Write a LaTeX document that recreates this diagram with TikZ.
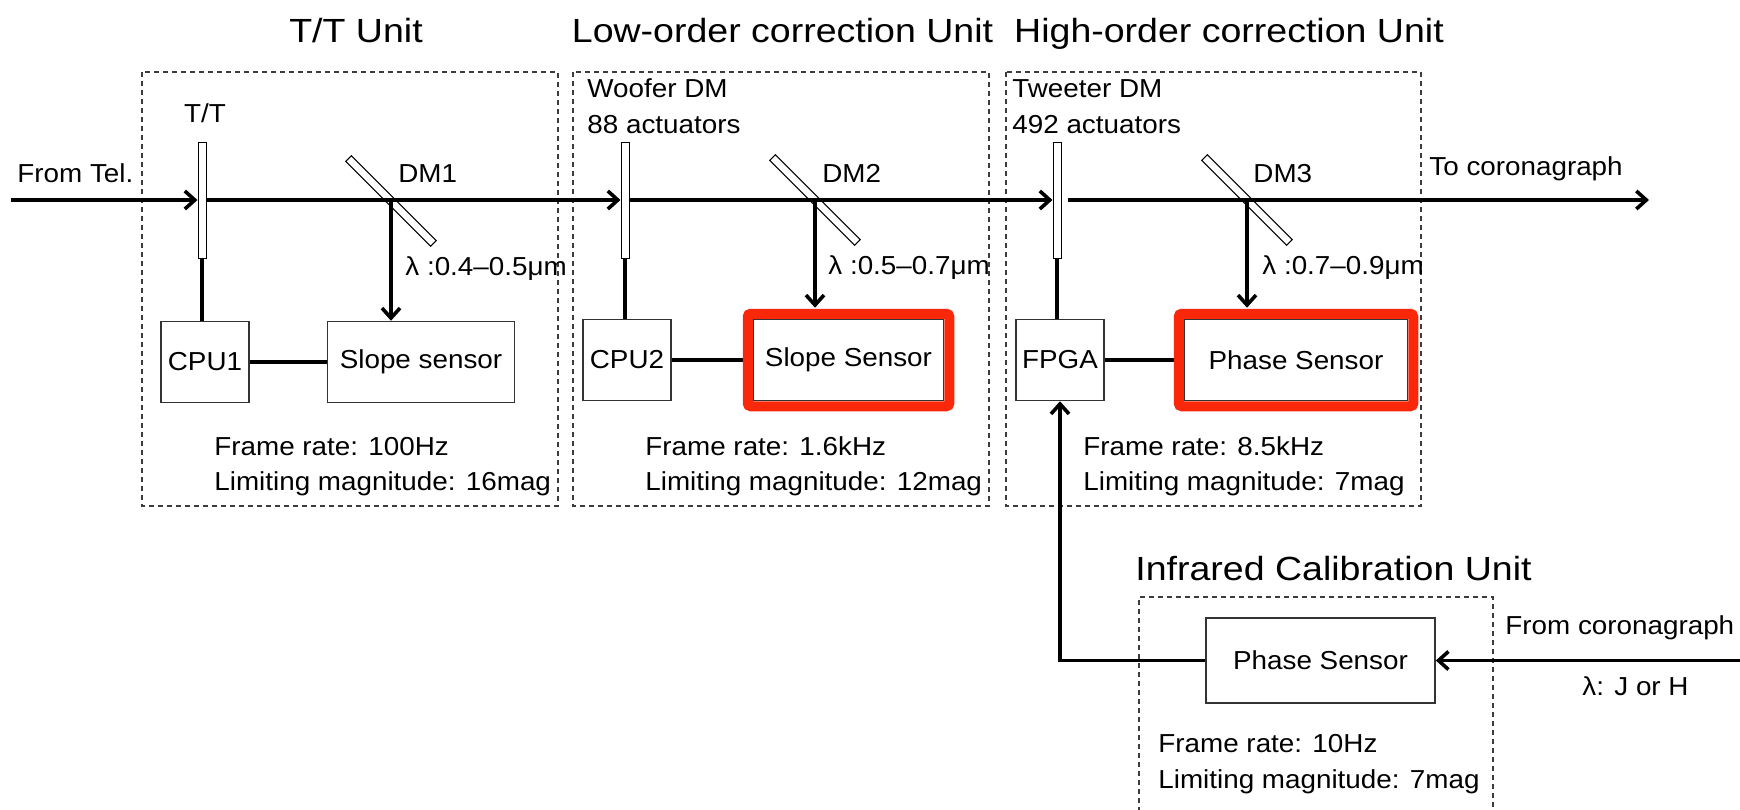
\documentclass[tikz,border=0pt]{standalone}
\usepackage{fontspec}
\setmainfont{Liberation Sans}[FakeStretch=1.07]
\newfontfamily\ttlfont{Liberation Sans}[FakeStretch=1.12]
\usepackage{tikz}
\usetikzlibrary{positioning,arrows.meta}
\definecolor{alert}{RGB}{250,40,10}
\definecolor{frame}{RGB}{60,60,60}

\begin{document}
\begin{tikzpicture}[x=0.5pt,y=-0.5pt,font=\fontsize{13pt}{15pt}\selectfont,
 >={Straight Barb[length=5pt,width=9pt]},
 box/.style={draw=black!80,line width=0.75pt,minimum height=40.5pt,inner sep=0pt},
 mir/.style={draw,line width=0.5pt,fill=white,minimum width=4pt,minimum height=58pt,inner sep=0pt},
 dm/.style={draw,line width=0.5pt,minimum width=60pt,minimum height=4pt,inner sep=0pt,rotate=-45},
 unit/.style={draw=frame,line width=0.6pt,dash pattern=on 2.5pt off 2pt},
 beam/.style={line width=1.8pt},
 hot/.style={draw=alert,line width=5pt,rounded corners=1.5pt},
 ttl/.style={font=\ttlfont\fontsize{16.75pt}{20pt}\selectfont,anchor=base,inner sep=0pt},
 lbl/.style={anchor=base west,inner sep=0pt}]
 \useasboundingbox (0,0) rectangle (1740,809);
 % unit frames
 \draw[unit] (142,72) rectangle (558,506);
 \draw[unit] (573,72) rectangle (989,506);
 \draw[unit] (1006,72) rectangle (1421,506);
 \draw[unit] (1139,812) |- (1493,597) -- (1493,812);
 \node[ttl](tttl) at (356,42.5){T/T Unit};
 \node[ttl](lottl) at (782.5,42.5){Low-order correction Unit};
 \node[ttl](hittl) at (1229,42.5){High-order correction Unit};
 \node[ttl](irttl) at (1333.5,580){Infrared Calibration Unit};
 % mirrors
 \node[mir](tt) at (202,200){};
 \node[mir](wf) at (625,200){};
 \node[mir](tw) at (1057,200){};
 \node[dm](dm1) at (391,201){};
 \node[dm](dm2) at (815,200){};
 \node[dm](dm3) at (1247,200){};
 \node[anchor=base,inner sep=0pt](ttlab) at (205,122){T/T};
 \node[lbl](dm1l) at (398,182){DM1};
 \node[lbl](dm2l) at (822,182){DM2};
 \node[lbl](dm3l) at (1253,182){DM3};
 \node[lbl](woof) at (587,97){Woofer DM};
 \node[lbl](woofn) at (587,133){88 actuators};
 \node[lbl](twee) at (1012,97){Tweeter DM};
 \node[lbl](tween) at (1012,133){492 actuators};
 \node[lbl](tel) at (17,182){From Tel.};
 \node[lbl](toc) at (1429,175){To coronagraph};
 \node[lbl](lam1) at (405,275){λ :0.4–0.5μm};
 \node[lbl](lam2) at (828,274){λ :0.5–0.7μm};
 \node[lbl](lam3) at (1262,274){λ :0.7–0.9μm};
 % controllers and sensors
 \node[box,minimum width=44pt](cpu1) at (205,362){CPU1};
 \node[box,minimum width=93.5pt,right=38.5pt of cpu1](ss1){Slope sensor};
 \node[box,minimum width=44pt](cpu2) at (627,360){CPU2};
 \node[box,minimum width=95pt,right=40.5pt of cpu2](ss2){Slope Sensor};
 \node[box,minimum width=44pt](fpga) at (1060,360){FPGA};
 \node[box,minimum width=111.5pt,right=39.5pt of fpga](ps3){Phase Sensor};
 \node[box,minimum width=114.5pt,minimum height=42.5pt](ps4) at (1320.5,660.5){Phase Sensor};
 % beam
 \coordinate (in) at (11,200);
 \coordinate (out) at (1649,200);
 \coordinate (fromc) at (1740,660.5);
 \draw[beam,->](in)--(tt.west);
 \draw[beam,->](tt.east)--(wf.west);
 \draw[beam,->](wf.east)--(tw.west);
 \draw[beam,->]([xshift=3pt]tw.east)--(out);
 \draw[beam,->](dm1.center)--(dm1.center |- ss1.north);
 \draw[beam,->,shorten >=5.5pt](dm2.center)--(dm2.center |- ss2.north);
 \draw[beam,->,shorten >=5.5pt](dm3.center)--(dm3.center |- ps3.north);
 % links
 \draw[beam](tt.south)--(tt.south |- cpu1.north);
 \draw[beam](wf.south)--(wf.south |- cpu2.north);
 \draw[beam](tw.south)--(tw.south |- fpga.north);
 \draw[beam](cpu1)--(ss1);
 \draw[beam](cpu2)--(ss2);
 \draw[beam](fpga)--(ps3);
 \draw[beam,->](ps4.west)-|(fpga.south);
 \draw[beam,->](fromc)--(ps4.east);
 \draw[hot]([xshift=-2.5pt,yshift=-2.5pt]ss2.south west) rectangle ([xshift=2.5pt,yshift=2.5pt]ss2.north east);
 \draw[hot]([xshift=-2.5pt,yshift=-2.5pt]ps3.south west) rectangle ([xshift=2.5pt,yshift=2.5pt]ps3.north east);
 % figures of merit
 \node[lbl](fr1) at (214,455){Frame rate: 100Hz};
 \node[lbl](lm1) at (214,490){Limiting magnitude: 16mag};
 \node[lbl](fr2) at (645,455){Frame rate: 1.6kHz};
 \node[lbl](lm2) at (645,490){Limiting magnitude: 12mag};
 \node[lbl](fr3) at (1083,455){Frame rate: 8.5kHz};
 \node[lbl](lm3) at (1083,490){Limiting magnitude: 7mag};
 \node[lbl](fr4) at (1158,752){Frame rate: 10Hz};
 \node[lbl](lm4) at (1158,788){Limiting magnitude: 7mag};
 \node[lbl](fromcl) at (1505,634){From coronagraph};
 \node[lbl](bands) at (1582,695){λ: J or H};
\end{tikzpicture}
\end{document}
